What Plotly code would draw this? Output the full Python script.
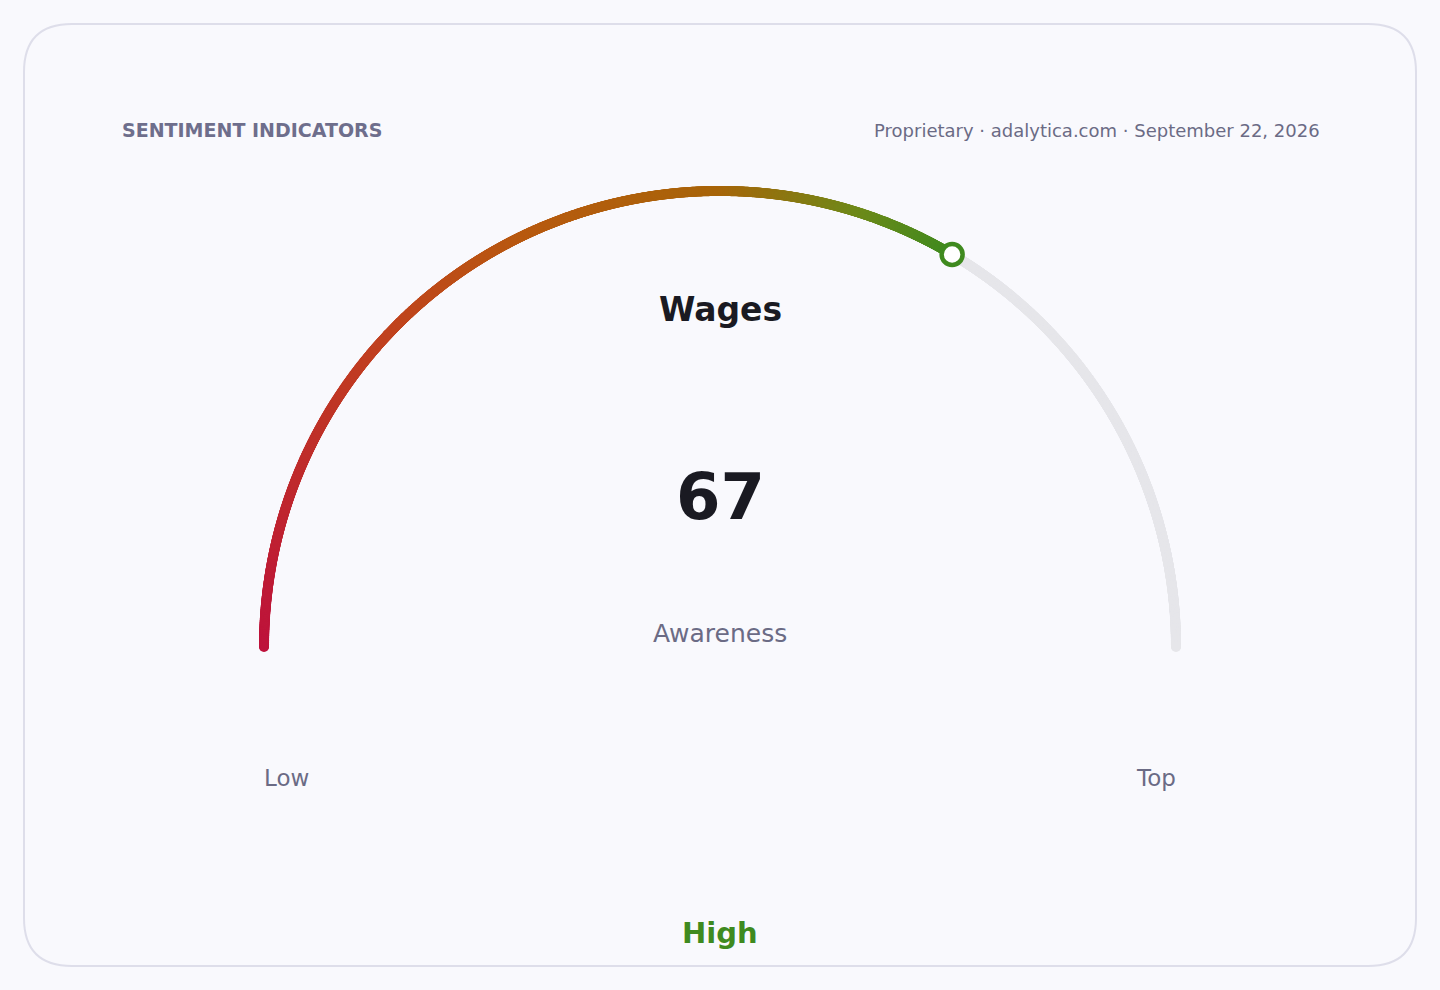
import numpy as np
import plotly.graph_objects as go

# gauge data
gauge_title = 'Wages'
gauge_subtitle = 'Awareness'
gauge_value = 67
gauge_min, gauge_max = 0, 100
range_labels = ['Low', 'Top']
status_label = 'High'
header = 'SENTIMENT INDICATORS'
source = 'Proprietary · adalytica.com · September 22, 2026'

# colour stops along the filled arc (value, colour)
stop_values = [0, 25, 36, 50, 60, 67]
stop_colors = ['#be123c', '#c0441e', '#b85a10', '#a8650a', '#6e8a1a', '#3f8a1f']

W, H = 1440, 990
cx, cy, r = 720, 647, 456
bg = '#f9f9fd'


def arc_xy(vals):
    vals = np.asarray(vals, dtype=float)
    t = np.pi * (1 - (vals - gauge_min) / (gauge_max - gauge_min))
    return cx + r * np.cos(t), cy - r * np.sin(t)


fig = go.Figure()

# grey track for the remaining part
rest = np.linspace(gauge_value, gauge_max, 900)
x, y = arc_xy(rest)
fig.add_trace(go.Scatter(x=x, y=y, mode='markers', hoverinfo='skip',
                         marker=dict(size=10, color='#e6e6ea', line_width=0)))

# gradient fill up to the value
filled = np.linspace(gauge_min, gauge_value, 1400)
x, y = arc_xy(filled)
cscale = [[v / gauge_value, c] for v, c in zip(stop_values, stop_colors)]
fig.add_trace(go.Scatter(x=x, y=y, mode='markers', hoverinfo='skip',
                         marker=dict(size=10, color=filled, colorscale=cscale,
                                     cmin=gauge_min, cmax=gauge_value, line_width=0)))

# value knob
x, y = arc_xy([gauge_value])
fig.add_trace(go.Scatter(x=x, y=y, mode='markers', hoverinfo='skip',
                         marker=dict(size=21, color='white',
                                     line=dict(color=stop_colors[-1], width=4.5))))

# card outline
k = 48
x0, y0, x1, y1 = 24, 24, 1416, 966
path = (f'M {x0 + k},{y0} L {x1 - k},{y0} Q {x1},{y0} {x1},{y0 + k} '
        f'L {x1},{y1 - k} Q {x1},{y1} {x1 - k},{y1} L {x0 + k},{y1} '
        f'Q {x0},{y1} {x0},{y1 - k} L {x0},{y0 + k} Q {x0},{y0} {x0 + k},{y0} Z')
fig.add_shape(type='path', path=path, xref='x', yref='y', layer='below',
              line=dict(color='#dedeea', width=2), fillcolor=bg)

font = 'DejaVu Sans, Verdana, sans-serif'
muted = '#6b6b85'


def label(x, y, text, size, color, bold=False, anchor='center'):
    if bold:
        text = f'<b>{text}</b>'
    fig.add_annotation(x=x, y=y, text=text, showarrow=False, xanchor=anchor,
                       yanchor='middle', font=dict(family=font, size=size, color=color))


label(120, 130, header, 19, '#6e6e8c', bold=True, anchor='left')
label(1322, 130, source, 18, muted, anchor='right')
label(720, 309, gauge_title, 33, '#1a1a22', bold=True)
label(720, 497, str(gauge_value), 64, '#1a1a22', bold=True)
label(720, 633, gauge_subtitle, 25, muted)
label(286, 778, range_labels[0], 23, muted)
label(1156, 778, range_labels[1], 23, muted)
label(720, 933, status_label, 29, stop_colors[-1], bold=True)

fig.update_layout(
    width=W, height=H, margin=dict(l=0, r=0, t=0, b=0),
    paper_bgcolor=bg, plot_bgcolor=bg, showlegend=False,
    xaxis=dict(range=[0, W], visible=False, fixedrange=True),
    yaxis=dict(range=[H, 0], visible=False, fixedrange=True),
)

# drop the default page margin so the figure fills the window
fig.write_html('out.html', config={'displayModeBar': False},
               post_script="document.body.style.margin='0';"
                           "document.body.style.background='#f9f9fd';")
